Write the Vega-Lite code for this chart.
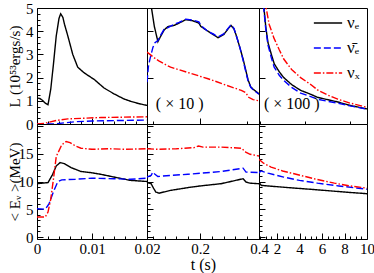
{
"$schema": "https://vega.github.io/schema/vega-lite/v6.json",
"padding": {"left": 6, "top": 0, "right": 0, "bottom": 0},
"columns": 3,
"spacing": 0,
"bounds": "flush",
"resolve": {"legend": {"color": "independent", "strokeDash": "independent"}},
"config": {
  "view": {"stroke": "#000", "strokeWidth": 1},
  "font": "Liberation Serif",
  "axis": {"domain": false, "grid": false, "labelFlush": false, "labelOverlap": false, "labelFont": "Liberation Serif", "labelFontSize": 15, "labelColor": "#000", "titleFont": "Liberation Serif", "titleFontSize": 15, "titleFontWeight": "normal", "titleColor": "#000", "tickColor": "#000", "tickWidth": 1, "labelPadding": 10},
  "axisY": {"minExtent": 13, "maxExtent": 13, "titlePadding": 2},
  "axisX": {"titlePadding": -3, "labelPadding": 8},
  "legend": {"labelFont": "Liberation Serif", "labelFontSize": 17, "labelColor": "#000", "symbolType": "stroke", "symbolSize": 800, "symbolStrokeWidth": 1.4, "orient": "none", "legendX": 54, "legendY": 0, "padding": 0, "rowPadding": 2, "labelOffset": 4}
},
"datasets": {
  "L1": [
    {"s":"νₑ","t":0,"v":1.12},{"s":"νₑ","t":0.0005,"v":1.1},{"s":"νₑ","t":0.001,"v":1.02},{"s":"νₑ","t":0.0015,"v":0.9},{"s":"νₑ","t":0.002,"v":0.83},{"s":"νₑ","t":0.0025,"v":1.5},{"s":"νₑ","t":0.003,"v":2.6},{"s":"νₑ","t":0.0035,"v":3.8},{"s":"νₑ","t":0.004,"v":4.55},{"s":"νₑ","t":0.0043,"v":4.75},{"s":"νₑ","t":0.0047,"v":4.6},{"s":"νₑ","t":0.005,"v":4.3},{"s":"νₑ","t":0.0056,"v":3.8},{"s":"νₑ","t":0.0065,"v":3.0},{"s":"νₑ","t":0.0074,"v":2.45},{"s":"νₑ","t":0.0086,"v":2.2},{"s":"νₑ","t":0.0104,"v":1.92},{"s":"νₑ","t":0.0122,"v":1.55},{"s":"νₑ","t":0.014,"v":1.3},{"s":"νₑ","t":0.0158,"v":1.08},{"s":"νₑ","t":0.017,"v":0.98},{"s":"νₑ","t":0.0185,"v":0.88},{"s":"νₑ","t":0.02,"v":0.8},
    {"s":"ν̄ₑ","t":0,"v":0.0},{"s":"ν̄ₑ","t":0.003,"v":0.0},{"s":"ν̄ₑ","t":0.005,"v":0.05},{"s":"ν̄ₑ","t":0.007,"v":0.1},{"s":"ν̄ₑ","t":0.01,"v":0.13},{"s":"ν̄ₑ","t":0.015,"v":0.15},{"s":"ν̄ₑ","t":0.02,"v":0.17},
    {"s":"νₓ","t":0,"v":0.0},{"s":"νₓ","t":0.0013,"v":0.03},{"s":"νₓ","t":0.0035,"v":0.15},{"s":"νₓ","t":0.0056,"v":0.22},{"s":"νₓ","t":0.0116,"v":0.28},{"s":"νₓ","t":0.02,"v":0.31}
  ],
  "L2": [
    {"s":"νₑ","t":0.02,"v":8.0},{"s":"νₑ","t":0.034,"v":5.1},{"s":"νₑ","t":0.045,"v":4.2},{"s":"νₑ","t":0.057,"v":3.55},{"s":"νₑ","t":0.065,"v":3.75},{"s":"νₑ","t":0.078,"v":4.05},{"s":"νₑ","t":0.091,"v":4.2},{"s":"νₑ","t":0.112,"v":4.25},{"s":"νₑ","t":0.129,"v":4.35},{"s":"νₑ","t":0.152,"v":4.5},{"s":"νₑ","t":0.175,"v":4.45},{"s":"νₑ","t":0.196,"v":4.35},{"s":"νₑ","t":0.203,"v":4.2},{"s":"νₑ","t":0.227,"v":4.0},{"s":"νₑ","t":0.245,"v":3.85},{"s":"νₑ","t":0.261,"v":3.72},{"s":"νₑ","t":0.28,"v":3.85},{"s":"νₑ","t":0.295,"v":4.1},{"s":"νₑ","t":0.305,"v":4.25},{"s":"νₑ","t":0.315,"v":4.1},{"s":"νₑ","t":0.322,"v":3.85},{"s":"νₑ","t":0.335,"v":3.3},{"s":"νₑ","t":0.346,"v":2.8},{"s":"νₑ","t":0.363,"v":1.9},{"s":"νₑ","t":0.372,"v":1.6},{"s":"νₑ","t":0.38,"v":1.5},{"s":"νₑ","t":0.39,"v":1.4},{"s":"νₑ","t":0.4,"v":1.3},
    {"s":"ν̄ₑ","t":0.02,"v":1.8},{"s":"ν̄ₑ","t":0.025,"v":2.5},{"s":"ν̄ₑ","t":0.03,"v":2.8},{"s":"ν̄ₑ","t":0.04,"v":3.3},{"s":"ν̄ₑ","t":0.047,"v":3.5},{"s":"ν̄ₑ","t":0.057,"v":3.6},{"s":"ν̄ₑ","t":0.065,"v":3.8},{"s":"ν̄ₑ","t":0.078,"v":4.08},{"s":"ν̄ₑ","t":0.091,"v":4.15},{"s":"ν̄ₑ","t":0.112,"v":4.3},{"s":"ν̄ₑ","t":0.129,"v":4.38},{"s":"ν̄ₑ","t":0.152,"v":4.52},{"s":"ν̄ₑ","t":0.175,"v":4.48},{"s":"ν̄ₑ","t":0.196,"v":4.4},{"s":"ν̄ₑ","t":0.203,"v":4.25},{"s":"ν̄ₑ","t":0.227,"v":3.98},{"s":"ν̄ₑ","t":0.245,"v":3.88},{"s":"ν̄ₑ","t":0.261,"v":3.75},{"s":"ν̄ₑ","t":0.28,"v":3.88},{"s":"ν̄ₑ","t":0.295,"v":4.12},{"s":"ν̄ₑ","t":0.305,"v":4.28},{"s":"ν̄ₑ","t":0.315,"v":4.12},{"s":"ν̄ₑ","t":0.322,"v":3.85},{"s":"ν̄ₑ","t":0.335,"v":3.3},{"s":"ν̄ₑ","t":0.346,"v":2.75},{"s":"ν̄ₑ","t":0.363,"v":1.85},{"s":"ν̄ₑ","t":0.372,"v":1.58},{"s":"ν̄ₑ","t":0.38,"v":1.48},{"s":"ν̄ₑ","t":0.39,"v":1.38},{"s":"ν̄ₑ","t":0.4,"v":1.28},
    {"s":"νₓ","t":0.02,"v":3.1},{"s":"νₓ","t":0.03,"v":3.0},{"s":"νₓ","t":0.045,"v":2.85},{"s":"νₓ","t":0.06,"v":2.72},{"s":"νₓ","t":0.08,"v":2.58},{"s":"νₓ","t":0.1,"v":2.45},{"s":"νₓ","t":0.159,"v":2.22},{"s":"νₓ","t":0.227,"v":1.95},{"s":"νₓ","t":0.25,"v":1.85},{"s":"νₓ","t":0.305,"v":1.6},{"s":"νₓ","t":0.34,"v":1.45},{"s":"νₓ","t":0.355,"v":1.35},{"s":"νₓ","t":0.365,"v":1.15},{"s":"νₓ","t":0.38,"v":1.05},{"s":"νₓ","t":0.4,"v":1.0}
  ],
  "L3": [
    {"s":"νₑ","t":0.55,"v":9},{"s":"νₑ","t":0.84,"v":5.0},{"s":"νₑ","t":1.0,"v":4.2},{"s":"νₑ","t":1.2,"v":3.5},{"s":"νₑ","t":1.5,"v":3.0},{"s":"νₑ","t":1.75,"v":2.6},{"s":"νₑ","t":2.2,"v":2.25},{"s":"νₑ","t":2.6,"v":2.0},{"s":"νₑ","t":3.3,"v":1.7},{"s":"νₑ","t":4.1,"v":1.45},{"s":"νₑ","t":5.0,"v":1.28},{"s":"νₑ","t":5.6,"v":1.15},{"s":"νₑ","t":6.5,"v":1.05},{"s":"νₑ","t":7.4,"v":0.95},{"s":"νₑ","t":8.5,"v":0.8},{"s":"νₑ","t":10,"v":0.65},
    {"s":"ν̄ₑ","t":0.55,"v":9},{"s":"ν̄ₑ","t":0.82,"v":5.0},{"s":"ν̄ₑ","t":1.0,"v":4.1},{"s":"ν̄ₑ","t":1.2,"v":3.4},{"s":"ν̄ₑ","t":1.5,"v":2.85},{"s":"ν̄ₑ","t":1.75,"v":2.45},{"s":"ν̄ₑ","t":2.2,"v":2.1},{"s":"ν̄ₑ","t":2.6,"v":1.88},{"s":"ν̄ₑ","t":3.3,"v":1.58},{"s":"ν̄ₑ","t":4.1,"v":1.33},{"s":"ν̄ₑ","t":5.0,"v":1.18},{"s":"ν̄ₑ","t":5.6,"v":1.07},{"s":"ν̄ₑ","t":6.5,"v":0.98},{"s":"ν̄ₑ","t":7.4,"v":0.9},{"s":"ν̄ₑ","t":8.5,"v":0.78},{"s":"ν̄ₑ","t":10,"v":0.64},
    {"s":"νₓ","t":0.75,"v":7},{"s":"νₓ","t":1.0,"v":5.1},{"s":"νₓ","t":1.3,"v":4.3},{"s":"νₓ","t":1.73,"v":3.7},{"s":"νₓ","t":2.2,"v":3.2},{"s":"νₓ","t":2.6,"v":2.8},{"s":"νₓ","t":3.3,"v":2.35},{"s":"νₓ","t":4.1,"v":2.0},{"s":"νₓ","t":5.0,"v":1.7},{"s":"νₓ","t":5.6,"v":1.47},{"s":"νₓ","t":6.5,"v":1.25},{"s":"νₓ","t":7.4,"v":1.07},{"s":"νₓ","t":8.5,"v":0.9},{"s":"νₓ","t":9.5,"v":0.78},{"s":"νₓ","t":10,"v":0.72}
  ],
  "E1": [
    {"s":"νₑ","t":0,"v":9.6},{"s":"νₑ","t":0.001,"v":9.7},{"s":"νₑ","t":0.002,"v":9.8},{"s":"νₑ","t":0.0028,"v":11.2},{"s":"νₑ","t":0.0035,"v":12.8},{"s":"νₑ","t":0.0042,"v":13.4},{"s":"νₑ","t":0.005,"v":13.2},{"s":"νₑ","t":0.0062,"v":12.5},{"s":"νₑ","t":0.008,"v":11.8},{"s":"νₑ","t":0.0098,"v":11.6},{"s":"νₑ","t":0.0116,"v":11.3},{"s":"νₑ","t":0.014,"v":10.8},{"s":"νₑ","t":0.017,"v":10.2},{"s":"νₑ","t":0.02,"v":10.0},
    {"s":"ν̄ₑ","t":0,"v":5.1},{"s":"ν̄ₑ","t":0.0015,"v":5.0},{"s":"ν̄ₑ","t":0.0022,"v":6.0},{"s":"ν̄ₑ","t":0.003,"v":8.2},{"s":"ν̄ₑ","t":0.0038,"v":10.0},{"s":"ν̄ₑ","t":0.0045,"v":10.3},{"s":"ν̄ₑ","t":0.007,"v":10.4},{"s":"ν̄ₑ","t":0.01,"v":10.6},{"s":"ν̄ₑ","t":0.014,"v":10.5},{"s":"ν̄ₑ","t":0.017,"v":10.4},{"s":"ν̄ₑ","t":0.02,"v":10.6},
    {"s":"νₓ","t":0,"v":3.6},{"s":"νₓ","t":0.0015,"v":3.6},{"s":"νₓ","t":0.002,"v":4.5},{"s":"νₓ","t":0.0025,"v":6.8},{"s":"νₓ","t":0.003,"v":10.5},{"s":"νₓ","t":0.0035,"v":14.5},{"s":"νₓ","t":0.0045,"v":16.6},{"s":"νₓ","t":0.0053,"v":17.2},{"s":"νₓ","t":0.006,"v":17.0},{"s":"νₓ","t":0.007,"v":16.4},{"s":"νₓ","t":0.008,"v":16.0},{"s":"νₓ","t":0.01,"v":15.8},{"s":"νₓ","t":0.013,"v":15.9},{"s":"νₓ","t":0.016,"v":15.8},{"s":"νₓ","t":0.02,"v":15.9}
  ],
  "E2": [
    {"s":"νₑ","t":0.02,"v":9.8},{"s":"νₑ","t":0.034,"v":9.6},{"s":"νₑ","t":0.042,"v":8.8},{"s":"νₑ","t":0.05,"v":8.1},{"s":"νₑ","t":0.061,"v":7.9},{"s":"νₑ","t":0.1,"v":8.4},{"s":"νₑ","t":0.159,"v":8.9},{"s":"νₑ","t":0.2,"v":9.2},{"s":"νₑ","t":0.271,"v":9.6},{"s":"νₑ","t":0.346,"v":10.5},{"s":"νₑ","t":0.356,"v":9.9},{"s":"νₑ","t":0.37,"v":9.7},{"s":"νₑ","t":0.4,"v":9.6},
    {"s":"ν̄ₑ","t":0.02,"v":10.8},{"s":"ν̄ₑ","t":0.034,"v":11.1},{"s":"ν̄ₑ","t":0.04,"v":11.7},{"s":"ν̄ₑ","t":0.047,"v":11.3},{"s":"ν̄ₑ","t":0.057,"v":10.9},{"s":"ν̄ₑ","t":0.1,"v":11.1},{"s":"ν̄ₑ","t":0.159,"v":11.3},{"s":"ν̄ₑ","t":0.271,"v":11.8},{"s":"ν̄ₑ","t":0.346,"v":12.4},{"s":"ν̄ₑ","t":0.356,"v":11.7},{"s":"ν̄ₑ","t":0.4,"v":11.6},
    {"s":"νₓ","t":0.02,"v":15.9},{"s":"νₓ","t":0.06,"v":15.8},{"s":"νₓ","t":0.12,"v":15.9},{"s":"νₓ","t":0.18,"v":16.1},{"s":"νₓ","t":0.195,"v":16.4},{"s":"νₓ","t":0.21,"v":16.2},{"s":"νₓ","t":0.271,"v":16.2},{"s":"νₓ","t":0.34,"v":16.0},{"s":"νₓ","t":0.355,"v":15.3},{"s":"νₓ","t":0.37,"v":14.9},{"s":"νₓ","t":0.4,"v":14.6}
  ],
  "E3": [
    {"s":"νₑ","t":0.4,"v":9.7},{"s":"νₑ","t":0.5,"v":9.6},{"s":"νₑ","t":0.6,"v":9.3},{"s":"νₑ","t":3,"v":8.9},{"s":"νₑ","t":5.6,"v":8.5},{"s":"νₑ","t":8,"v":8.1},{"s":"νₑ","t":10,"v":7.8},
    {"s":"ν̄ₑ","t":0.4,"v":11.5},{"s":"ν̄ₑ","t":0.55,"v":11.9},{"s":"ν̄ₑ","t":1.2,"v":11.5},{"s":"ν̄ₑ","t":2.6,"v":10.8},{"s":"ν̄ₑ","t":4,"v":10.2},{"s":"ν̄ₑ","t":5.6,"v":9.7},{"s":"ν̄ₑ","t":7.5,"v":9.2},{"s":"ν̄ₑ","t":10,"v":8.6},
    {"s":"νₓ","t":0.4,"v":14.0},{"s":"νₓ","t":0.8,"v":13.3},{"s":"νₓ","t":1.47,"v":12.6},{"s":"νₓ","t":2.5,"v":11.9},{"s":"νₓ","t":4.1,"v":11.1},{"s":"νₓ","t":5.5,"v":10.4},{"s":"νₓ","t":7.1,"v":9.7},{"s":"νₓ","t":8.5,"v":9.2},{"s":"νₓ","t":10,"v":8.8}
  ]
},
"concat": [
  {
    "width": 110, "height": 116,
    "data": {"name": "L1"},
    "mark": {"type": "line", "clip": true, "strokeWidth": 1.4},
    "encoding": {
      "x": {"field": "t", "type": "quantitative", "scale": {"domain": [0, 0.02], "nice": false, "zero": false},
        "axis": {"values": [0,0.002,0.004,0.006,0.008,0.01,0.012,0.014,0.016,0.018,0.02], "labels": false, "title": null,
          "tickSize": {"condition": {"test": "abs(datum.value*100 - round(datum.value*100)) < 1e-6", "value": -6}, "value": -3}}},
      "y": {"field": "v", "type": "quantitative", "scale": {"domain": [0, 5], "nice": false, "zero": false},
        "axis": {"values": [0,0.25,0.5,0.75,1,1.25,1.5,1.75,2,2.25,2.5,2.75,3,3.25,3.5,3.75,4,4.25,4.5,4.75,5], "format": "~g", "labelExpr": "datum.value % 1 == 0 ? datum.label : ''", "title": "L (10⁵³ergs/s)",
          "tickSize": {"condition": {"test": "datum.value % 1 == 0", "value": -6}, "value": -3}}},
      "color": {"field": "s", "type": "nominal", "scale": {"domain": ["νₑ","ν̄ₑ","νₓ"], "range": ["#000000","#0000ff","#ff0000"]}, "legend": null},
      "strokeDash": {"field": "s", "type": "nominal", "scale": {"domain": ["νₑ","ν̄ₑ","νₓ"], "range": [[1,0],[7,3],[7,2,1.5,2]]}, "legend": null}
    }
  },
  {
    "width": 112, "height": 116,
    "layer": [
      {
        "data": {"name": "L2"},
        "mark": {"type": "line", "clip": true, "strokeWidth": 1.4},
        "encoding": {
          "x": {"field": "t", "type": "quantitative", "scale": {"domain": [0.02, 0.4], "nice": false, "zero": false},
            "axis": {"values": [0.04,0.08,0.12,0.16,0.2,0.24,0.28,0.32,0.36,0.4], "labels": false, "title": null,
              "tickSize": {"condition": {"test": "abs(datum.value*5 - round(datum.value*5)) < 1e-6", "value": -6}, "value": -3}}},
          "y": {"field": "v", "type": "quantitative", "scale": {"domain": [0, 5], "nice": false, "zero": false},
            "axis": {"values": [0,0.25,0.5,0.75,1,1.25,1.5,1.75,2,2.25,2.5,2.75,3,3.25,3.5,3.75,4,4.25,4.5,4.75,5], "labels": false, "title": null,
              "tickSize": {"condition": {"test": "datum.value % 1 == 0", "value": -6}, "value": -3}}},
          "color": {"field": "s", "type": "nominal", "scale": {"domain": ["νₑ","ν̄ₑ","νₓ"], "range": ["#000000","#0000ff","#ff0000"]}, "legend": null},
          "strokeDash": {"field": "s", "type": "nominal", "scale": {"domain": ["νₑ","ν̄ₑ","νₓ"], "range": [[1,0],[7,3],[7,2,1.5,2]]}, "legend": null}
        }
      },
      {
        "data": {"values": [{"t": 0.05, "v": 0.86, "label": "( × 10 )"}]},
        "mark": {"type": "text", "align": "left", "baseline": "middle", "font": "Liberation Serif", "fontSize": 16, "color": "#000"},
        "encoding": {"x": {"field": "t", "type": "quantitative"}, "y": {"field": "v", "type": "quantitative"}, "text": {"field": "label"}}
      }
    ]
  },
  {
    "width": 108, "height": 116,
    "layer": [
      {
        "data": {"name": "L3"},
        "mark": {"type": "line", "clip": true, "strokeWidth": 1.4},
        "encoding": {
          "x": {"field": "t", "type": "quantitative", "scale": {"domain": [0.4, 10], "nice": false, "zero": false},
            "axis": {"values": [0.5,1,1.5,2,2.5,3,3.5,4,4.5,5,5.5,6,6.5,7,7.5,8,8.5,9,9.5,10], "labels": false, "title": null,
              "tickSize": {"condition": {"test": "datum.value % 2 == 0", "value": -6}, "value": -3}}},
          "y": {"field": "v", "type": "quantitative", "scale": {"domain": [0, 5], "nice": false, "zero": false},
            "axis": {"values": [0,0.25,0.5,0.75,1,1.25,1.5,1.75,2,2.25,2.5,2.75,3,3.25,3.5,3.75,4,4.25,4.5,4.75,5], "labels": false, "title": null,
              "tickSize": {"condition": {"test": "datum.value % 1 == 0", "value": -6}, "value": -3}}},
          "color": {"field": "s", "type": "nominal", "scale": {"domain": ["νₑ","ν̄ₑ","νₓ"], "range": ["#000000","#0000ff","#ff0000"]}, "legend": {"title": null}},
          "strokeDash": {"field": "s", "type": "nominal", "scale": {"domain": ["νₑ","ν̄ₑ","νₓ"], "range": [[1,0],[7,3],[7,2,1.5,2]]}, "legend": {"title": null}}
        }
      },
      {
        "data": {"values": [{"t": 0.84, "v": 0.86, "label": "( × 100 )"}]},
        "mark": {"type": "text", "align": "left", "baseline": "middle", "font": "Liberation Serif", "fontSize": 16, "color": "#000"},
        "encoding": {"x": {"field": "t", "type": "quantitative"}, "y": {"field": "v", "type": "quantitative"}, "text": {"field": "label"}}
      }
    ]
  },
  {
    "width": 110, "height": 115,
    "data": {"name": "E1"},
    "mark": {"type": "line", "clip": true, "strokeWidth": 1.4},
    "encoding": {
      "x": {"field": "t", "type": "quantitative", "scale": {"domain": [0, 0.02], "nice": false, "zero": false},
        "axis": {"values": [0,0.002,0.004,0.006,0.008,0.01,0.012,0.014,0.016,0.018,0.02], "format": "~g", "labelExpr": "abs(datum.value*100 - round(datum.value*100)) < 1e-6 ? datum.label : ''", "title": null,
          "tickSize": {"condition": {"test": "abs(datum.value*100 - round(datum.value*100)) < 1e-6", "value": -6}, "value": -3}}},
      "y": {"field": "v", "type": "quantitative", "scale": {"domain": [-0.36, 20.36], "nice": false, "zero": false},
        "axis": {"values": [0,1,2,3,4,5,6,7,8,9,10,11,12,13,14,15,16,17,18,19,20], "format": "~g", "labelExpr": "datum.value % 5 == 0 && datum.value < 20 ? datum.label : ''", "title": "< Eᵥ >(MeV)",
          "tickSize": {"condition": {"test": "datum.value % 5 == 0", "value": -6}, "value": -3}}},
      "color": {"field": "s", "type": "nominal", "scale": {"domain": ["νₑ","ν̄ₑ","νₓ"], "range": ["#000000","#0000ff","#ff0000"]}, "legend": null},
      "strokeDash": {"field": "s", "type": "nominal", "scale": {"domain": ["νₑ","ν̄ₑ","νₓ"], "range": [[1,0],[7,3],[7,2,1.5,2]]}, "legend": null}
    }
  },
  {
    "width": 112, "height": 115,
    "data": {"name": "E2"},
    "mark": {"type": "line", "clip": true, "strokeWidth": 1.4},
    "encoding": {
      "x": {"field": "t", "type": "quantitative", "scale": {"domain": [0.02, 0.4], "nice": false, "zero": false},
        "axis": {"values": [0.04,0.08,0.12,0.16,0.2,0.24,0.28,0.32,0.36,0.4], "format": "~g", "labelExpr": "abs(datum.value*5 - round(datum.value*5)) < 1e-6 ? datum.label : ''", "title": "t (s)", "titleFontSize": 16,
          "tickSize": {"condition": {"test": "abs(datum.value*5 - round(datum.value*5)) < 1e-6", "value": -6}, "value": -3}}},
      "y": {"field": "v", "type": "quantitative", "scale": {"domain": [-0.36, 20.36], "nice": false, "zero": false},
        "axis": {"values": [0,1,2,3,4,5,6,7,8,9,10,11,12,13,14,15,16,17,18,19,20], "labels": false, "title": null,
          "tickSize": {"condition": {"test": "datum.value % 5 == 0", "value": -6}, "value": -3}}},
      "color": {"field": "s", "type": "nominal", "scale": {"domain": ["νₑ","ν̄ₑ","νₓ"], "range": ["#000000","#0000ff","#ff0000"]}, "legend": null},
      "strokeDash": {"field": "s", "type": "nominal", "scale": {"domain": ["νₑ","ν̄ₑ","νₓ"], "range": [[1,0],[7,3],[7,2,1.5,2]]}, "legend": null}
    }
  },
  {
    "width": 108, "height": 115,
    "data": {"name": "E3"},
    "mark": {"type": "line", "clip": true, "strokeWidth": 1.4},
    "encoding": {
      "x": {"field": "t", "type": "quantitative", "scale": {"domain": [0.4, 10], "nice": false, "zero": false},
        "axis": {"values": [0.5,1,1.5,2,2.5,3,3.5,4,4.5,5,5.5,6,6.5,7,7.5,8,8.5,9,9.5,10], "format": "~g", "labelExpr": "datum.value % 2 == 0 ? datum.label : ''", "title": null,
          "tickSize": {"condition": {"test": "datum.value % 2 == 0", "value": -6}, "value": -3}}},
      "y": {"field": "v", "type": "quantitative", "scale": {"domain": [-0.36, 20.36], "nice": false, "zero": false},
        "axis": {"values": [0,1,2,3,4,5,6,7,8,9,10,11,12,13,14,15,16,17,18,19,20], "labels": false, "title": null,
          "tickSize": {"condition": {"test": "datum.value % 5 == 0", "value": -6}, "value": -3}}},
      "color": {"field": "s", "type": "nominal", "scale": {"domain": ["νₑ","ν̄ₑ","νₓ"], "range": ["#000000","#0000ff","#ff0000"]}, "legend": null},
      "strokeDash": {"field": "s", "type": "nominal", "scale": {"domain": ["νₑ","ν̄ₑ","νₓ"], "range": [[1,0],[7,3],[7,2,1.5,2]]}, "legend": null}
    }
  }
]
}
